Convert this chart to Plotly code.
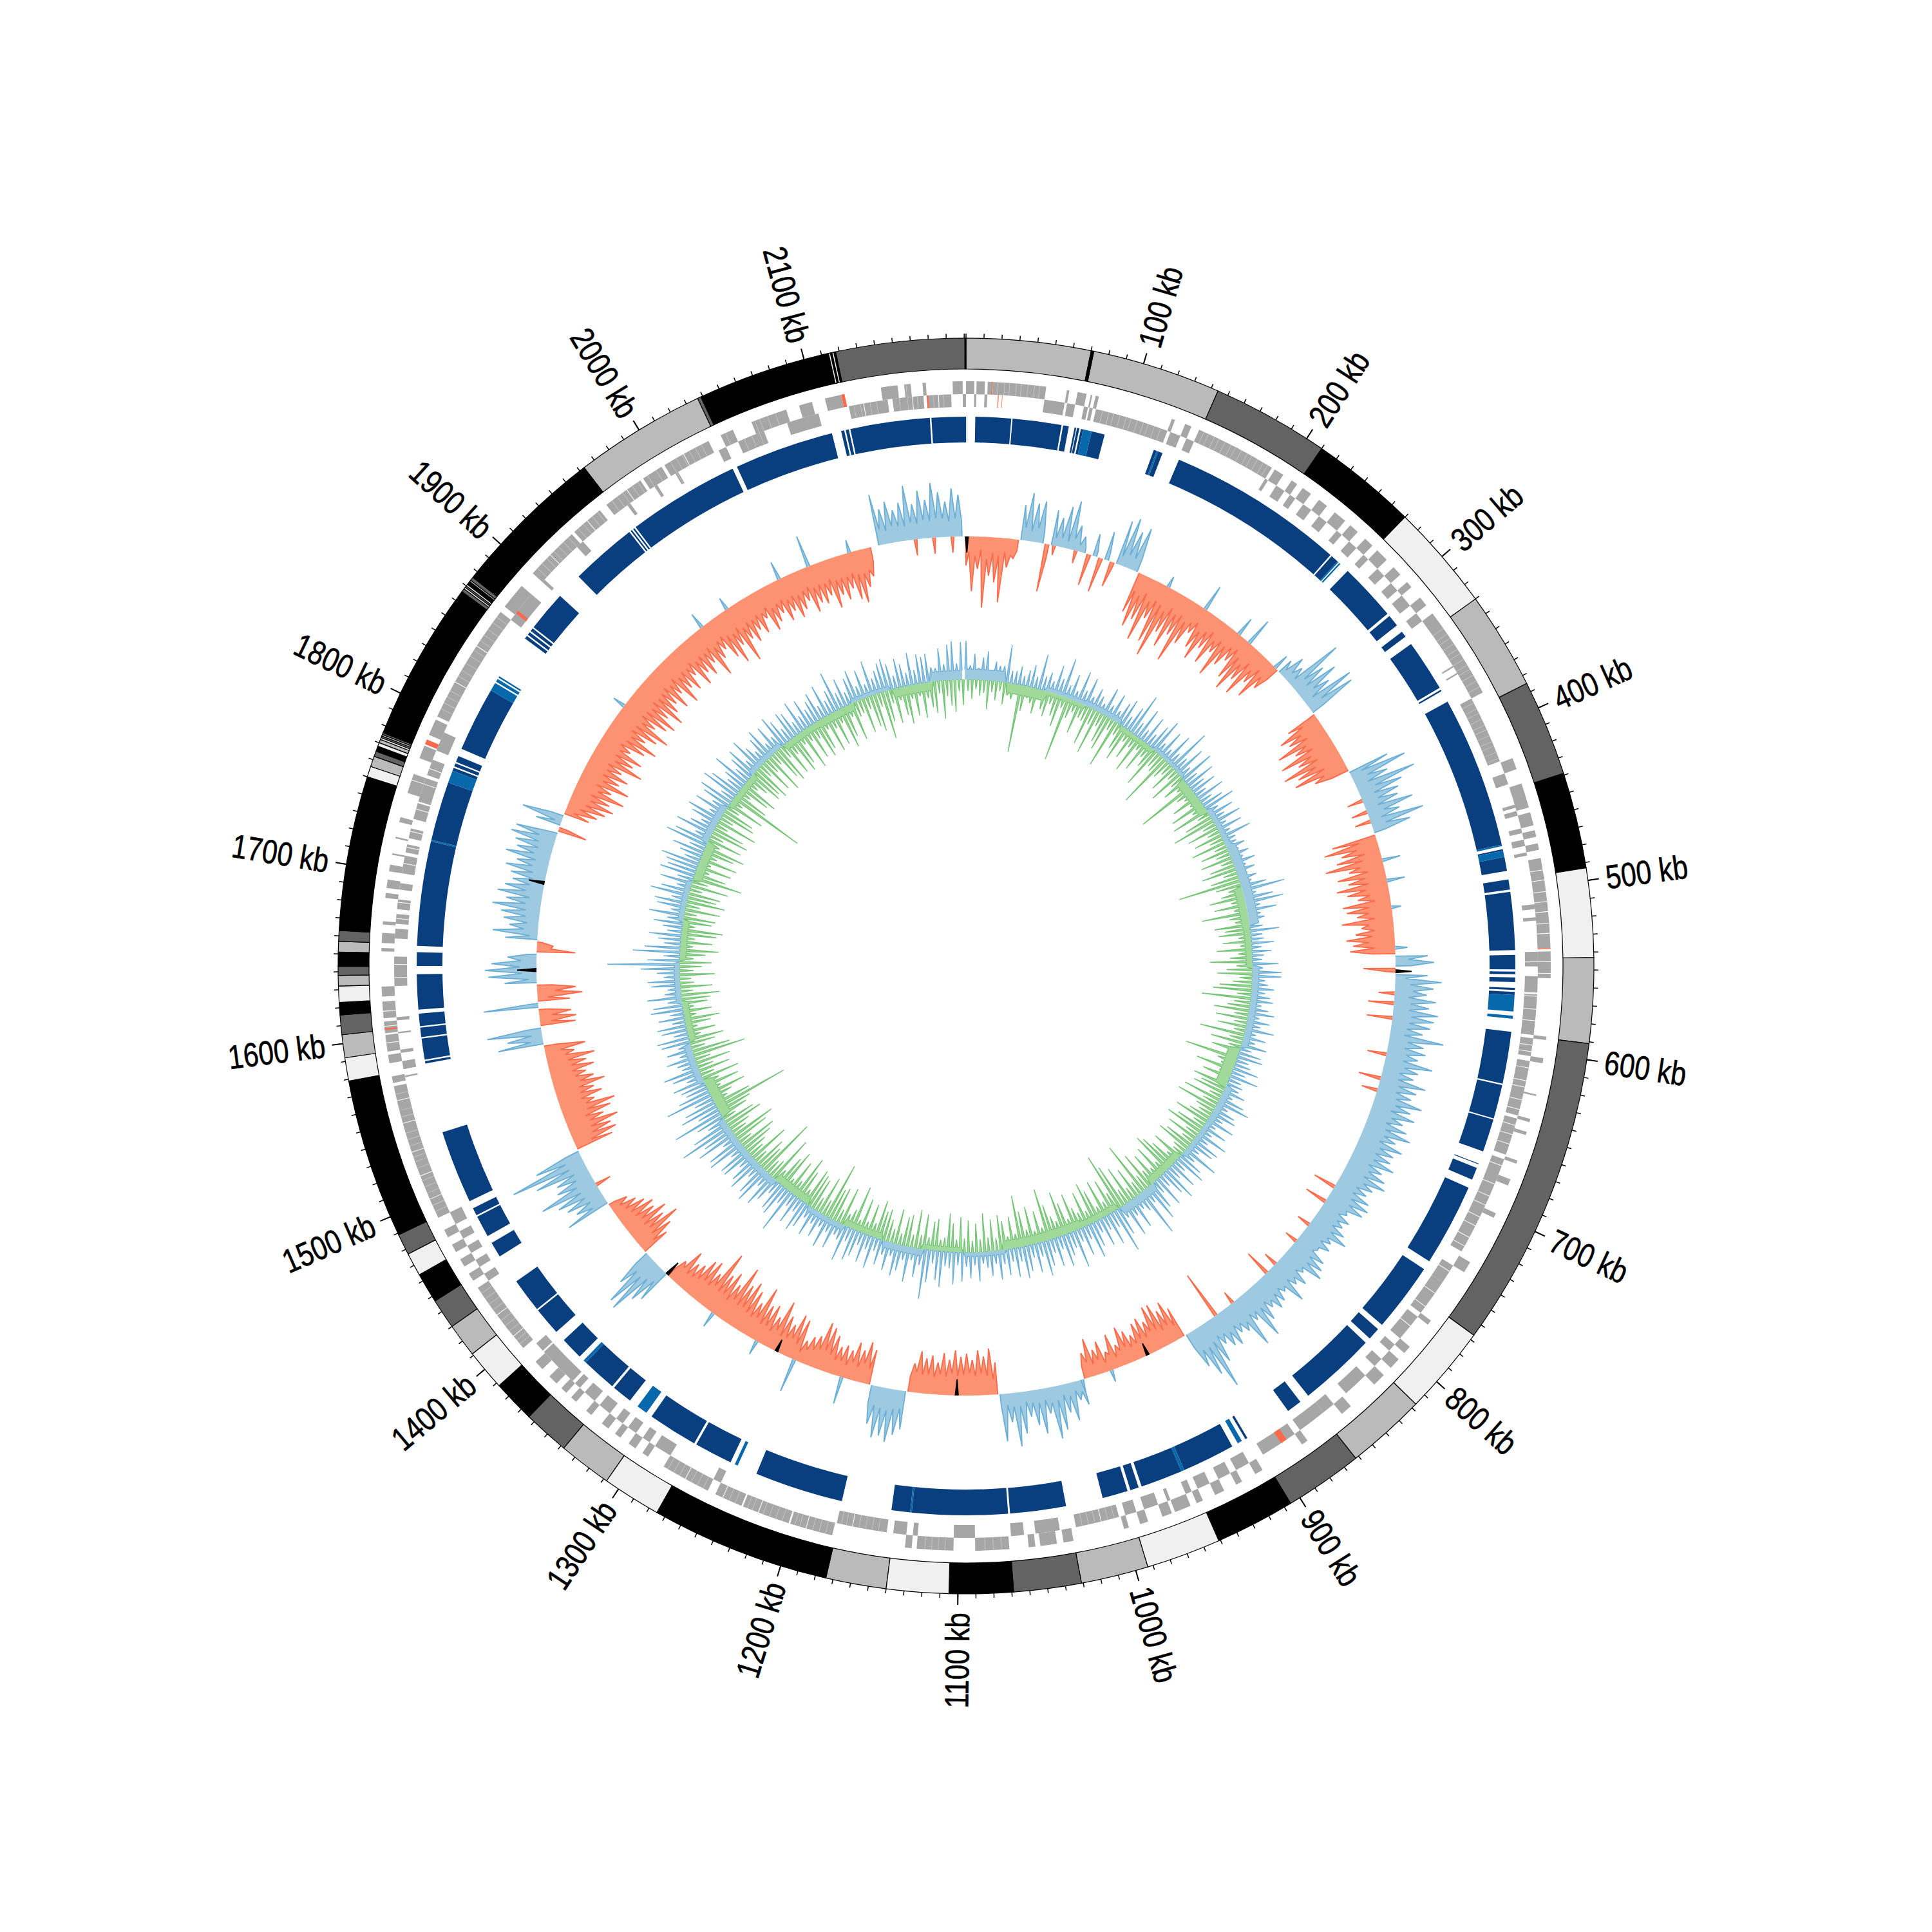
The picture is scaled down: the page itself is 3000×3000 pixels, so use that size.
import math
import plotly.graph_objects as go

GENOME_KB = 2191
BIN_KB = 5
FLOOR_KB = 50

ideo_edges = [0,70,71.5,144,210,270,330,385,439,493,543,591,767,817,862,906,951,993,1031,1069,1105,1140,1174,1275,1308,1338,1364,1388,1411,1430,1447,1464,1477,1489,1579,1592,1605,1616,1623,1632,1638,1643,1651,1657,1663,1750,1756,1762,1765,1768,1770,1772,1773,1774,1775,1776,1866,1868,1869,1870,1871,1873,1874,1876,1963,2037,2039,2114,2115,2116,2117,2118,2190.4,2191]
ideo_shades = ["g","k","g","d","k","l","g","d","k","l","g","d","l","g","d","k","l","g","d","k","l","g","k","l","g","d","k","l","g","d","k","l","d","k","l","g","d","k","l","g","d","k","g","d","k","l","g","d","k","l","g","l","d","g","d","k","d","l","d","l","k","g","d","k","g","d","k","l","k","l","k","d","k"]

gene_outer = [(0,5),(6.3,11.3),(13,48),(60.5,62),(67,72.5),(75,76),(78,80),(125.5,127.5),(134,138),(143,192),(194,200),(206,210),(214,220),(226,232),(238,246),(250,256),(262,268),(272,280),(286,292),(298,302),(310,316),(322,378),(421,428),(437,452),(455,463),(466,470),(474,478),(483,537),(539,555),(590,592),(603,606),(625,626),(640,642),(648,650),(666,668),(678,682),(700,703),(733,740),(775,778),(795,800),(805,812),(818,826),(845,852),(878,882),(910,915),(924,928),(936,942),(950,954),(958,968),(970,976),(985,990),(997,1000),(1031,1037),(1041,1051),(1054,1058),(1069.6,1090),(1103,1125),(1128,1132),(1176,1202),(1203,1232),(1233,1250),(1255,1285),(1296,1300),(1305,1310),(1316,1320),(1325,1330),(1338,1342),(1350,1354),(1358,1362),(1366,1372),(1378,1384),(1395,1440),(1445,1450),(1455,1460),(1465,1470),(1475,1480),(1488,1571),(1573,1577),(1585,1590),(1592,1602),(1603,1610),(1612,1622),(1625,1631),(1652,1654),(1657,1663),(1668,1670),(1684,1687),(1690,1695),(1700,1704),(1710,1711),(1720,1721),(1730,1733),(1748,1760),(1770,1778),(1785,1795),(1797,1870),(1874,1890),(1900,1933),(1935,1955),(1960,1985),(1987,2000),(2002,2032),(2040,2048),(2060,2082),(2090,2098),(2106,2116),(2140,2150),(2154,2158),(2165,2167),(2183,2189)]
gene_inner = [(5,6.3),(11.3,13),(48,60.5),(62,67),(72.5,75),(76,78),(80,125.5),(127.5,134),(138,143),(192,194),(200,206),(210,214),(220,226),(232,238),(246,250),(256,262),(268,272),(280,286),(292,298),(302,310),(316,322),(355,356),(360,361),(378,420),(428,435),(448,450),(452,455),(463,466),(470,474),(478,480),(510,513),(518,520),(539,548),(554,564),(565,590),(592,603),(606,640),(642,665),(668,730),(740,752),(752,775),(778,795),(800,805),(812,818),(826,842),(852,860),(860,878),(882,905),(915,924),(928,936),(942,950),(954,958),(968,970),(976,985),(990,997),(1001,1028),(1038,1053),(1060,1068),(1090,1103),(1125,1128),(1132,1140),(1144,1175),(1250,1255),(1285,1296),(1300,1305),(1310,1316),(1320,1325),(1330,1338),(1342,1350),(1354,1358),(1360,1385),(1386,1392),(1440,1445),(1450,1455),(1460,1465),(1470,1475),(1480,1488),(1575,1576),(1580,1585),(1590,1592),(1602,1603),(1610,1612),(1631,1649),(1660,1666),(1669,1675),(1678,1684),(1690,1694),(1700,1711),(1713,1718),(1722,1728),(1734,1744),(1745,1760),(1762,1772),(1778,1790),(1870,1890),(1900,1902),(1930,1935),(1970,1972),(1990,1992),(2005,2007),(2035,2040),(2048,2065),(2080,2100),(2119,2143),(2146,2165),(2167,2182),(2189,2191)]
gene_gaps = [490,496,503,509,515,522,528,545,552,566,574,581,596,600,610,618,622,630,636,646,652,658,672,684,692,698,706,712,720,726,744,760,770,785,1012,1165,1192,1222,1245,1270,1404,1420,1500,1515,1530,1548,1562,1597,1607,1616,1636,1644,1672,1682,1706,1716,1726,1740,1756,1766,1820,1845,1915,1945,1975,2015,2128,2158,2174]
gene_hair = [16,19,23,26,30,33,37,41,44,84,88,91,95,99,102,106,110,113,117,121,146,149,153,156,160,164,167,171,175,178,182,186,189,333,337,340,344,348,351,355,359,362,366,370,374,381,385,388,392,396,399,403,407,410,414,418,1004,1008,1016,1020,1024,1084,1079,1074,1108,1112,1116,1120,1149,1153,1157,1161,1169,1172,1180,1184,1188,1196,1199,1207,1211,1215,1219,1226,1229,1237,1241,1258,1262,1266,1274,1278,1282,1398,1401,1408,1412,1416,1424,1428,1432,1436,1492,1496,1504,1508,1512,1520,1524,1527,1534,1538,1542,1552,1556,1566,1802,1806,1810,1814,1824,1828,1833,1838,1842,1849,1853,1857,1862,1866,1904,1908,1912,1918,1922,1926,1930,1938,1942,1949,1953,1964,1968,1972,1979,1983,1990,1996,2006,2010,2014,2019,2023,2027,2043,2052,2057,2062,2065,2070,2075,2122,2126,2132,2136,2150,2155,2161,2171,2177]
gene_red_outer = [(15.5,16),(537,537.6),(1605,1606),(1779,1782),(2116,2118)]
gene_red_inner = [(19.5,20),(22,22.3),(888,892),(2167,2168),(1875,1877)]

block_dark = [(0.5,0.7),(5.9,28.8),(29.6,61),(62,65.7),(69.4,70.5),(71,72.5),(73.5,75),(80.5,89),(121.7,123.6),(124.6,127.6),(138.8,253),(254,259),(267.8,305),(306.9,314.5),(319.6,323.5),(329.3,362.6),(364,365),(372.7,470),(473,474),(478,487),(492.5,499),(500.5,537.6),(540.7,549.9),(551.3,553),(555,558),(561.7,563),(564.2,566.2),(589.7,623),(624,645.8),(646.6,667.8),(676,676.5),(679,687),(692.6,745.6),(751.6,796),(799.7,807.6),(811.3,861),(867.3,877),(908,909.5),(919,953),(955,982),(984,989.5),(991.4,1007.8),(1031.6,1067.5),(1068.7,1130),(1131,1143),(1175,1232),(1250,1274.5),(1276,1308),(1325,1338),(1339.5,1362),(1367.5,1382),(1389,1407),(1408,1430),(1449,1459),(1464,1478),(1479,1484),(1489,1536),(1581,1582.5),(1583.5,1597),(1598,1604),(1605,1613),(1615.5,1638),(1643.3,1652),(1656,1723),(1724,1762),(1770,1772),(1773,1775),(1776,1780),(1785,1826.6),(1866,1868),(1869,1871),(1872,1874),(1875,1901),(1918,1961),(1962,1963),(1964,1965),(1966,2038),(2041,2105),(2111,2113),(2114,2116),(2117,2168),(2169,2191)]
block_mid = [(75,80.5),(123.6,124.6),(259,259.8),(260.5,261.5),(470,471),(474,478),(566.2,576.7),(579.4,581.3),(912,915),(953,955),(1130,1131),(1245,1247),(1312,1319),(1362,1364),(1723,1724),(1762,1770),(1826.6,1832),(1833,1835),(1836,1837)]

cov_values = [
-45,-85,-50,-110,-60,-70,-100,-45,-30,55,75,60,65,-75,55,45,65,76,40,25,
-50,35,-55,45,-40,70,78,60,70,-65,-85,-70,-100,-60,-95,-115,-70,-90,-65,-105,
-70,-45,-65,-80,-55,-75,-50,-85,-60,-45,-70,-85,-60,-80,-50,-70,-45,25,40,30,
91,55,70,50,83,78,-50,-70,-60,-85,-60,-90,-65,-95,-75,-85,-55,65,90,55,
96,70,60,55,75,50,85,60,-70,-85,-60,-70,-90,-55,-75,-60,-80,-65,-50,-75,
-70,-55,-80,-50,-60,-75,-65,-70,50,60,-50,50,72,60,50,65,55,70,65,60,
50,84,55,60,50,75,55,50,72,60,55,75,60,70,55,65,75,55,70,60,
60,70,55,65,71,55,50,60,65,61,40,50,45,55,65,45,50,35,55,60,
67,40,55,45,68,40,50,55,45,60,82,45,83,50,45,60,55,45,70,108,
80,60,-50,-65,-55,-70,-71,-50,-60,-55,-40,-50,-60,-35,-55,-30,-50,-40,-60,-40,
40,30,60,45,70,82,40,70,55,40,65,84,45,74,-50,-72,-60,-70,-55,-65,
-60,-70,-55,-65,-50,-60,-55,-65,-45,60,70,83,75,80,60,-55,-65,-50,-60,-45,
-50,-45,-60,-70,-75,-50,-45,-35,-65,-70,-50,-60,-80,-50,-65,-60,-85,-55,-70,-80,
-70,-95,-60,-75,-65,-98,-55,-70,-65,-50,-45,-60,-35,55,65,95,90,60,-45,-60,
-80,-60,-71,-55,-60,-50,-40,-30,71,50,60,70,93,60,55,85,120,75,-60,-70,
-65,-80,-60,-75,-85,-55,-70,-60,-80,-65,-55,-70,-60,-75,-45,-64,71,55,85,-55,
-57,-50,85,-50,-70,-60,50,75,80,70,45,-60,-25,50,70,45,55,60,75,55,
70,60,50,55,65,50,70,55,60,70,65,-45,40,65,-40,-50,-60,-70,-60,-80,
-55,-80,-60,-70,-55,-85,-65,-75,-50,-70,-85,-60,-75,-90,-60,-75,-85,-65,-86,-70,
-60,-75,-55,-80,-60,-70,-50,-75,-60,-70,-55,-84,-60,-50,-70,-85,-60,-93,-60,-70,
-55,-65,-45,-70,-60,-50,-67,-55,-70,-60,-50,-72,-60,-65,-55,-78,-60,-70,-55,-75,
-82,-60,-45,0,80,55,65,50,60,85,55,75,60,85,70,55,75,65]

cov_troughs = [
24,30,20,34,24,28,22,26,18,20,16,22,19,24,12,14,11,18,10,8,
6,10,8,11,10,14,20,18,22,28,32,24,34,28,30,36,26,32,28,34,
30,24,34,28,22,32,26,29,24,20,28,34,24,30,20,26,22,10,14,11,
22,18,24,14,24,22,26,36,30,38,32,40,34,42,32,37,29,18,24,20,
28,22,24,20,26,18,22,19,28,34,24,30,36,26,32,29,35,30,24,34,
36,28,38,30,34,40,32,36,20,24,12,16,24,28,22,26,24,29,27,24,
22,29,26,30,28,32,26,27,30,29,32,34,30,35,29,32,34,30,35,32,
34,30,35,32,37,30,29,32,34,35,28,32,30,34,35,30,34,29,32,35,
34,29,35,30,34,29,32,35,30,34,32,30,37,32,29,34,30,27,32,35,
34,24,22,28,24,30,32,26,28,24,22,26,24,16,24,14,22,18,24,20,
18,14,20,16,22,24,18,21,19,16,22,21,18,19,24,30,34,30,35,32,
30,34,29,32,27,30,29,32,24,28,30,34,32,30,28,24,30,22,27,20,
24,22,28,32,30,26,22,14,24,29,26,24,30,24,28,26,32,28,30,34,
32,36,29,34,32,36,30,32,28,24,22,26,16,22,27,32,30,24,22,27,
30,26,29,24,22,19,14,10,24,22,26,27,29,24,22,26,27,22,26,32,
34,36,32,38,40,35,37,38,42,37,34,35,32,30,24,22,19,16,22,18,
20,16,16,16,28,24,12,22,26,24,14,22,8,12,22,18,21,22,24,19,
26,22,19,21,24,21,26,22,24,26,11,14,10,20,14,20,26,30,27,34,
28,34,30,32,29,36,32,34,30,35,37,32,34,38,32,34,37,32,35,34,
30,34,29,35,32,34,29,35,32,34,30,37,32,29,34,37,32,38,34,35,
32,34,29,35,32,30,34,32,35,32,29,34,32,34,30,35,34,35,32,36,
37,34,22,0,24,20,26,24,22,27,24,29,26,30,29,24,28,24]

cov_extra_kb = [72,90,410,420,428,570,578,590,620,640,650,736,750,773,790,815,825,862,879,1457,2150,2165,2180,
171,206,240,251,280,461,478,500,533,975,1000,1198,1239,1273,1315,1870,1960,1985,2034,2060,2095]
cov_extra_val = [-15,-20,-25,-25,-25,-25,-40,-40,-30,-35,-25,-36,-35,-21,-20,-22,-41,-20,-76,-25,-25,-25,-25,
18,41,30,44,25,28,28,15,19,19,20,43,53,23,25,20,25,20,29,50,20]
cov_black_kb = [0.7,552,943,1103,1255,1364,1640,1711]
cov_black_val = [-25,25,-20,-25,-20,-25,30,25]

gc_pos = [
60,22,40,18,35,45,16,30,24,25,58,19,20,28,15,25,35,18,55,22,
30,18,45,26,61,20,40,16,50,22,45,18,34,25,16,45,20,42,18,35,
45,20,40,66,22,50,18,45,20,40,55,19,45,18,50,22,70,25,50,20,
55,22,47,25,40,18,45,20,35,50,19,40,22,45,18,40,17,48,20,18,
29,16,30,18,35,17,30,15,28,18,40,67,20,45,60,22,46,20,25,15,
20,45,18,20,35,15,30,18,15,40,16,45,45,20,25,35,22,30,35,18,
30,40,18,35,22,45,18,35,20,40,18,35,40,20,25,40,22,45,20,25,
22,35,18,40,52,20,35,40,22,45,18,40,20,50,22,45,40,20,57,22,
40,50,20,45,22,55,40,20,50,22,45,60,25,77,30,22,50,25,55,20,
45,70,25,50,22,45,20,40,55,22,45,20,59,25,35,50,20,45,22,40,
54,22,45,20,40,50,22,45,20,40,22,45,20,38,25,18,45,20,40,22,
45,20,50,25,22,55,45,20,50,77,25,45,20,55,22,40,50,20,45,22,
40,20,50,22,45,20,40,50,22,56,25,20,45,22,50,20,40,22,45,20,
40,50,22,45,20,70,25,50,45,22,40,55,25,60,50,25,55,45,25,50,
50,25,60,55,25,65,50,85,60,30,45,80,35,60,50,30,74,50,35,40,
50,25,45,57,25,30,45,22,40,20,45,50,22,40,45,20,40,22,50,45,
22,53,25,20,45,50,25,35,60,112,50,25,73,55,25,35,50,22,30,45,
25,55,22,45,50,25,60,45,22,50,25,55,45,50,60,25,35,50,25,67,
55,25,60,40,25,45,55,22,50,25,45,55,22,60,50,25,35,59,25,40,
50,22,55,35,22,40,50,20,45,22,52,40,22,45,40,20,50,22,45,25,
35,45,20,50,22,35,62,25,45,20,40,50,22,45,20,55,25,35,45,50,
40,20,45,35,20,50,22,45,40,44,22,20,50,25,55,60,25,58]

gc_neg = [
18,30,15,25,20,45,18,30,15,35,20,25,16,106,40,18,25,40,16,30,
40,18,35,50,18,101,30,18,50,22,25,60,25,70,22,45,55,18,77,20,
40,55,20,45,22,60,18,50,22,35,65,25,30,87,30,20,45,18,55,22,
40,20,93,30,20,45,18,55,22,60,20,45,69,22,50,20,45,22,55,20,
45,22,50,20,40,55,22,45,98,40,22,35,55,22,50,20,72,30,22,55,
40,50,20,45,18,55,22,35,66,25,40,55,20,30,50,60,22,76,25,35,
55,22,50,20,45,18,70,22,50,20,45,18,84,30,22,60,20,45,18,55,
40,50,20,60,25,65,30,22,35,55,20,45,60,22,50,20,45,55,22,18,
50,20,45,60,68,22,55,20,50,25,60,25,85,22,50,20,60,25,70,92,
30,55,22,60,20,50,65,22,55,25,35,60,22,50,70,25,35,55,82,22,
50,20,60,25,55,81,22,50,20,45,55,20,50,22,60,20,45,18,50,22,
55,20,45,60,22,18,50,45,20,55,22,60,20,50,45,18,55,22,35,50,
45,60,22,50,20,55,18,70,30,20,60,22,55,50,89,25,60,22,50,55,
60,22,50,70,25,55,20,65,50,22,75,30,25,94,40,50,22,65,25,35,
50,60,22,55,70,25,35,60,50,22,45,55,119,60,25,35,60,22,55,25,
60,22,50,25,55,25,83,60,22,40,55,20,45,18,40,55,20,45,18,40,
45,60,20,50,22,18,55,22,35,50,22,40,60,20,50,22,55,64,20,45,
50,20,55,22,60,45,50,20,60,25,78,50,22,55,20,60,25,50,65,22,
55,22,60,50,20,65,22,55,50,22,60,20,121,55,22,50,60,22,35,55,
50,60,22,55,25,65,20,50,60,22,55,25,60,50,20,65,22,55,25,60,
50,20,60,25,55,22,65,50,20,60,25,22,55,20,50,59,22,75,50,22,
55,20,45,60,22,50,20,55,25,40,50,20,60,25,40,50,18,40]

gc_floor_pos = [16,0,6,8,0,6,0,8,14,14,0,10,10,0,10,8,0,12,0,0,0,6,0,10,0,8,0,10,10,0,10,0,8,0,8,0,10,0,8,0,0,6,0,14]
gc_floor_neg = [0,16,6,0,8,0,14,0,0,12,10,0,0,18,0,0,12,0,10,14,14,0,8,0,10,0,12,0,0,16,0,10,0,10,0,14,0,10,0,10,12,0,14,0]

GREY = "#a6a6a6"
HAIR = "#d2d2d2"
DARK_BLUE = "#0a3f7f"
MID_BLUE = "#0868ac"
SHADES = {"g": "#bababa", "d": "#636363", "k": "#000000", "l": "#f0f0f0"}
R_OUT, R_IN = 975, 927
BLUE_F, BLUE_L = "#9ecae1", "#6baed6"
RED_F, RED_L = "#fc9272", "#fb6a4a"
GREEN_F, GREEN_L = "#a1d99b", "#74c476"
COV_BASE, GC_BASE = 667, 445


def deg(kb):
    return kb * 360 / GENOME_KB


fig = go.Figure()


def add_blocks(spans, color, r0, r1, line=None):
    fig.add_trace(go.Barpolar(
        theta=[deg((s + e) / 2) for s, e in spans],
        width=[deg(e - s) for s, e in spans],
        base=[r0] * len(spans), r=[r1 - r0] * len(spans),
        marker=dict(color=color, line=line or dict(width=0)),
        hoverinfo="skip", showlegend=False))


def inside(kb, spans):
    return any(s <= kb <= e for s, e in spans)


ideo_spans = list(zip(ideo_edges[:-1], ideo_edges[1:]))
for key, color in SHADES.items():
    add_blocks([sp for sp, sh in zip(ideo_spans, ideo_shades) if sh == key], color, R_IN, R_OUT,
               dict(color="#000000", width=1.2))

add_blocks(gene_outer, GREY, 888, 908)
add_blocks(gene_inner, GREY, 868, 888)
add_blocks([(k, k + 0.25) for k in gene_hair if inside(k, gene_outer)], HAIR, 888, 908)
add_blocks([(k, k + 0.25) for k in gene_hair if inside(k, gene_inner)], HAIR, 868, 888)
add_blocks([(k, k + 0.4) for k in gene_gaps if inside(k, gene_outer)], "#ffffff", 888, 908)
add_blocks([(k, k + 0.4) for k in gene_gaps if inside(k, gene_inner)], "#ffffff", 868, 888)
add_blocks(gene_red_outer, RED_L, 888, 908)
add_blocks(gene_red_inner, RED_L, 868, 888)
add_blocks(block_dark, DARK_BLUE, 813, 853)
add_blocks(block_mid, MID_BLUE, 813, 853)


def add_ticks(kbs, length, width):
    th, rr = [], []
    for kb in kbs:
        th += [deg(kb), deg(kb), None]
        rr += [R_OUT, R_OUT + length, None]
    fig.add_trace(go.Scatterpolar(theta=th, r=rr, mode="lines", hoverinfo="skip", showlegend=False,
                                  line=dict(color="#000000", width=width)))


add_ticks(range(0, GENOME_KB, 10), 7, 1.5)
add_ticks(range(100, GENOME_KB, 100), 17, 2)


def add_paths(paths, sign, base, fill_color, line_color, line_width=1.8):
    """paths: runs of (kb, magnitude) vertices; every run is closed along the baseline."""
    fill_t, fill_r, line_t, line_r = [], [], [], []
    for run in paths:
        pts_t = [deg(k) for k, _ in run]
        pts_r = [base + sign * v for _, v in run]
        line_t += pts_t + [None]
        line_r += pts_r + [None]
        fill_t += pts_t + pts_t[::-1] + [None]
        fill_r += pts_r + [base] * len(pts_t) + [None]
    fig.add_trace(go.Scatterpolar(theta=fill_t, r=fill_r, mode="lines", fill="toself", fillcolor=fill_color,
                                  line=dict(width=0, color=fill_color), hoverinfo="skip", showlegend=False))
    fig.add_trace(go.Scatterpolar(theta=line_t, r=line_r, mode="lines", hoverinfo="skip", showlegend=False,
                                  line=dict(color=line_color, width=line_width)))


def cov_runs(want):
    runs, cur = [], []
    for i, v in enumerate(cov_values):
        if v != 0 and want(v):
            kb = i * BIN_KB
            if not cur:
                cur.append((kb - 0.3, 0))
            cur += [(kb, abs(v)), (kb + BIN_KB / 2, cov_troughs[i])]
        elif cur:
            cur.append((cur[-1][0] + 0.3, 0))
            runs.append(cur)
            cur = []
    if cur:
        cur.append((cur[-1][0] + 0.3, 0))
        runs.append(cur)
    return runs


def single_spikes(kbs, vals):
    return [[(k - 1.2, 0), (k, v), (k + 1.2, 0)] for k, v in zip(kbs, vals)]


def gc_run(peaks, floors, offset):
    run = []
    for i, v in enumerate(peaks):
        kb = i * BIN_KB + offset
        floor = floors[int(i * BIN_KB // FLOOR_KB)]
        run += [(kb - 1.4, floor), (kb, v), (kb + 1.4, floor)]
    return [run]


add_paths(cov_runs(lambda v: v > 0), 1, COV_BASE, BLUE_F, BLUE_L)
add_paths(cov_runs(lambda v: v < 0), -1, COV_BASE, RED_F, RED_L)
ex = list(zip(cov_extra_kb, cov_extra_val))
add_paths(single_spikes([k for k, v in ex if v > 0], [v for k, v in ex if v > 0]), 1, COV_BASE, BLUE_F, BLUE_L)
add_paths(single_spikes([k for k, v in ex if v < 0], [-v for k, v in ex if v < 0]), -1, COV_BASE, RED_F, RED_L)
bl = list(zip(cov_black_kb, cov_black_val))
add_paths(single_spikes([k for k, v in bl if v > 0], [v for k, v in bl if v > 0]), 1, COV_BASE, "#000000", "#000000")
add_paths(single_spikes([k for k, v in bl if v < 0], [-v for k, v in bl if v < 0]), -1, COV_BASE, "#000000", "#000000")

add_paths(gc_run(gc_neg, gc_floor_neg, 2.5), -1, GC_BASE, GREEN_F, GREEN_L, 1.4)
add_paths(gc_run(gc_pos, gc_floor_pos, 0), 1, GC_BASE, BLUE_F, BLUE_L, 1.4)

FONT_PX = 52
NARROW = 0.82
annotations = []
for kb in range(100, 2101, 100):
    th = deg(kb)
    text_w = (len(str(kb)) * 0.556 + 1.334) * FONT_PX * NARROW
    rc = 1003 + text_w / 2
    annotations.append(dict(
        text=f"{kb} kb", xref="paper", yref="paper", showarrow=False,
        x=0.5 + rc * math.sin(math.radians(th)) / 3000,
        y=0.5 + rc * math.cos(math.radians(th)) / 3000,
        xanchor="center", yanchor="middle",
        textangle=th - 90 if th < 180 else th - 270,
        font=dict(family="Liberation Sans", size=FONT_PX, color="#000000")))

fig.update_layout(
    width=3000, height=3000, margin=dict(l=0, r=0, t=0, b=0),
    paper_bgcolor="#ffffff", showlegend=False, annotations=annotations,
    polar=dict(
        domain=dict(x=[0, 1], y=[0, 1]), bgcolor="#ffffff", bargap=0, barmode="overlay",
        radialaxis=dict(visible=False, range=[0, 1500]),
        angularaxis=dict(visible=False, rotation=90, direction="clockwise", thetaunit="degrees")))

CONDENSE_JS = (
    "document.body.style.margin='0';"
    "document.querySelectorAll('.annotation-text').forEach(function(t){"
    "t.setAttribute('textLength', t.getComputedTextLength()*%s);"
    "t.setAttribute('lengthAdjust','spacingAndGlyphs');"
    "t.style.stroke='#000000';t.style.strokeWidth='0.6px';});" % NARROW
)
fig.write_html("out.html", config={"displayModeBar": False}, post_script=CONDENSE_JS)
